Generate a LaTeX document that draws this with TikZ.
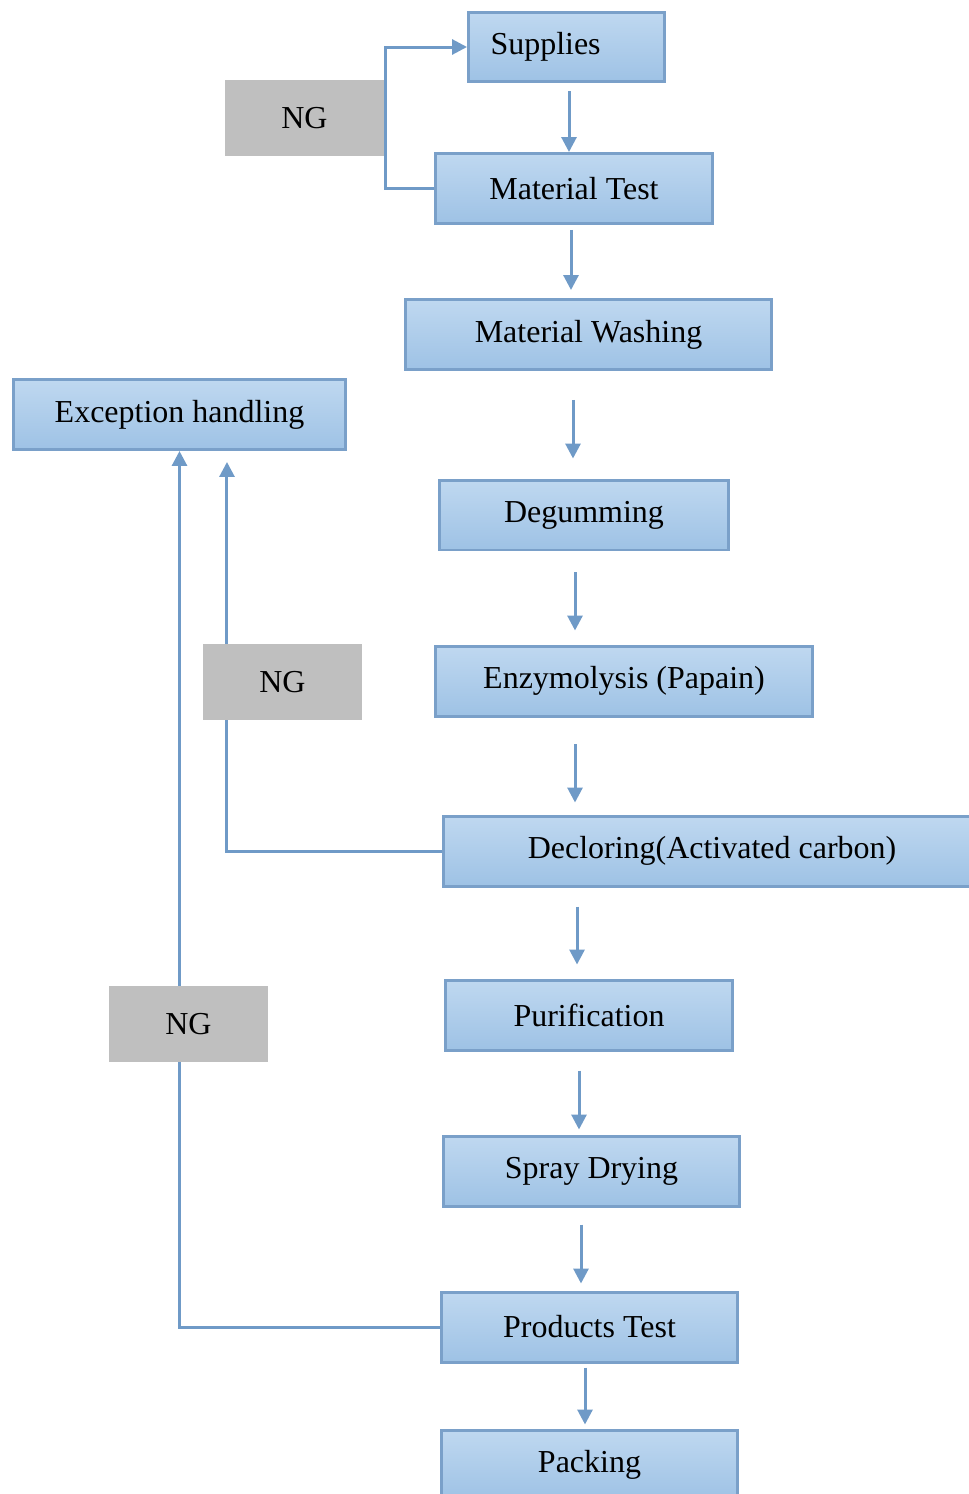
\documentclass[tikz,border=0pt]{standalone}
\usepackage{fontspec}
\setmainfont{Liberation Serif}
\usepackage{tikz}
\usetikzlibrary{arrows.meta, backgrounds}
\definecolor{stepEdge}{HTML}{7AA0C9}
\definecolor{stepTop}{HTML}{BFD8F0}
\definecolor{stepBot}{HTML}{9EC2E5}
\definecolor{flowLine}{HTML}{6F9AC7}
\definecolor{ngGray}{HTML}{BFBFBF}

\begin{document}
\begin{tikzpicture}[
    x=0.02cm, y=-0.02cm,
    box/.style={draw=stepEdge, line width=0.06cm, top color=stepTop,
                bottom color=stepBot, minimum height=1.4cm, inner sep=0pt,
                font=\fontsize{18.2}{22}\selectfont, align=center},
    ngbox/.style={fill=ngGray, minimum width=3.18cm, minimum height=1.52cm,
                  font=\fontsize{18.2}{22}\selectfont},
    arrow/.style={-{Triangle[length=0.3cm, width=0.3cm]}, draw=flowLine,
                  line width=0.06cm},
]
\useasboundingbox (0,0) rectangle (969,1494);

% Main flow
\node[box, minimum width=3.92cm, text width=3.04cm, align=left] (sup) at (566.5,47) {Supplies};
\node[box, minimum width=5.54cm] (mt) at (574,188.5) {Material Test};
\node[box, minimum width=7.32cm] (mw) at (588.5,334.5) {Material Washing};
\node[box, minimum width=5.78cm] (deg) at (584,515) {Degumming};
\node[box, minimum width=7.54cm] (enz) at (624,681) {Enzymolysis (Papain)};
\node[box, minimum width=10.74cm] (dec) at (712,851) {Decloring(Activated carbon)};
\node[box, minimum width=5.74cm] (pur) at (589,1015) {Purification};
\node[box, minimum width=5.92cm] (sd) at (591.5,1171) {Spray Drying};
\node[box, minimum width=5.92cm] (pt) at (589.5,1327) {Products Test};
\node[box, minimum width=5.92cm] (pack) at (589.5,1465) {Packing};

% Exception branch
\node[box, minimum width=6.64cm] (exc) at (179.5,414.5) {Exception handling};
\node[ngbox] (ng1) at (304.5,118) {NG};
\node[ngbox] (ng2) at (282.5,682) {NG};
\node[ngbox] (ng3) at (188.5,1024) {NG};

\draw[arrow, shorten <=0.16cm] ([xshift=0.05cm]sup.south) -- ([xshift=0.05cm]sup.south |- mt.north);
\draw[arrow, shorten <=0.1cm, shorten >=0.16cm] ([xshift=-0.06cm]mt.south) -- ([xshift=-0.06cm]mt.south |- mw.north);
\draw[arrow, shorten <=0.58cm, shorten >=0.4cm] ([xshift=-0.31cm]mw.south) -- ([xshift=-0.31cm]mw.south |- deg.north);
\draw[arrow, shorten <=0.42cm, shorten >=0.28cm] ([xshift=-0.18cm]deg.south) -- ([xshift=-0.18cm]deg.south |- enz.north);
\draw[arrow, shorten <=0.54cm, shorten >=0.24cm] ([xshift=-0.98cm]enz.south) -- ([xshift=-0.98cm]enz.south |- dec.north);
\draw[arrow, shorten <=0.38cm, shorten >=0.28cm] ([xshift=-2.7cm]dec.south) -- ([xshift=-2.7cm]dec.south |- pur.north);
\draw[arrow, shorten <=0.38cm, shorten >=0.1cm] ([xshift=-0.2cm]pur.south) -- ([xshift=-0.2cm]pur.south |- sd.north);
\draw[arrow, shorten <=0.34cm, shorten >=0.14cm] ([xshift=-0.21cm]sd.south) -- ([xshift=-0.21cm]sd.south |- pt.north);
\draw[arrow, shorten <=0.08cm, shorten >=0.08cm] ([xshift=-0.09cm]pt.south) -- ([xshift=-0.09cm]pt.south |- pack.north);

\begin{scope}[on background layer]
\draw[arrow] (mt.west) -- ++(-0.98cm,0) |- (sup.west);
\draw[arrow] (dec.west) -| ([xshift=0.95cm, yshift=-0.22cm]exc.south);
\draw[arrow] (pt.west) -| (exc.south);
\end{scope}
\end{tikzpicture}
\end{document}
